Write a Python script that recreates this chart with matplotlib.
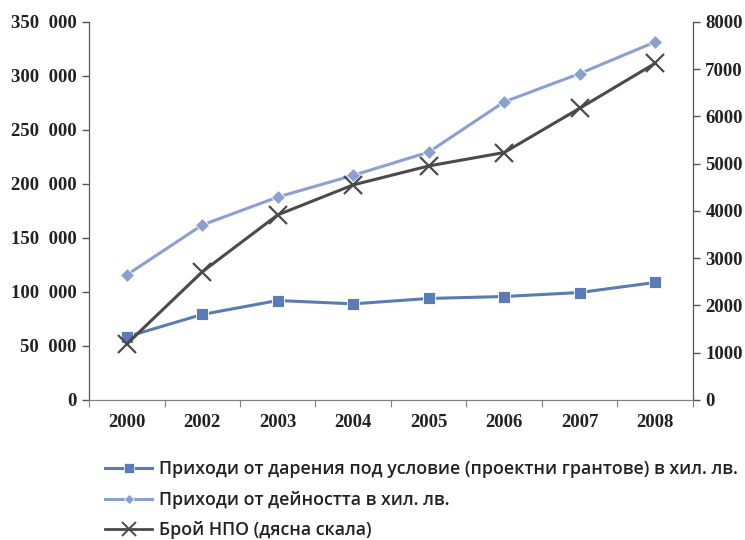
import matplotlib.pyplot as plt
from matplotlib.lines import Line2D
from matplotlib.ticker import FuncFormatter, FixedLocator

years = ['2000', '2002', '2003', '2004', '2005', '2006', '2007', '2008']
grants = [58500, 79200, 92100, 89000, 94000, 95800, 99500, 108800]
activity = [115800, 162000, 187900, 208000, 229500, 276000, 302200, 331500]
ngo_count = [1184, 2712, 3918, 4552, 4953, 5237, 6173, 7125]

labels = [
    'Приходи от дарения под условие (проектни грантове) в хил. лв.',
    'Приходи от дейността в хил. лв.',
    'Брой НПО (дясна скала)',
]

c_grants = '#5b7bb4'
c_activity = '#8ca0cf'
c_ngo = '#4a4a4a'
tick_font = dict(family='Liberation Serif', weight='bold', size=13.5)

fig = plt.figure(figsize=(7.45, 5.4), dpi=100)
ax = fig.add_axes([0.1195, 0.2593, 0.8105, 0.7000])
ax2 = ax.twinx()

x = list(range(len(years)))
ax.plot(x, grants, color=c_grants, lw=2.2, marker='s', ms=8,
        mfc=c_grants, mec='white', mew=0.6, zorder=3)
ax.plot(x, activity, color=c_activity, lw=2.2, marker='D', ms=7.5,
        mfc=c_activity, mec='white', mew=0.6, zorder=3)
ax2.plot(x, ngo_count, color=c_ngo, lw=2.2, marker='x', ms=13, mew=1.6)

ax.set_xlim(-0.5, len(years) - 0.5)
ax.set_ylim(0, 350000)
ax2.set_ylim(0, 8000)
ax.set_yticks(range(0, 350001, 50000))
ax2.set_yticks(range(0, 8001, 1000))
ax.yaxis.set_major_formatter(FuncFormatter(
    lambda v, p: '0' if v == 0 else f'{int(v):,}'.replace(',', '  ')))

# category ticks sit between the years
ax.xaxis.set_major_locator(FixedLocator([i - 0.5 for i in range(len(years) + 1)]))
ax.set_xticklabels([])
ax.xaxis.set_minor_locator(FixedLocator(x))
ax.set_xticklabels(years, minor=True)
ax.tick_params(axis='x', which='minor', length=0, pad=10)
ax.tick_params(axis='x', which='major', length=5, direction='out', color='#808080')

for a in (ax, ax2):
    a.spines['top'].set_visible(False)
    a.spines['bottom'].set_color('#808080')
    a.spines['left'].set_color('#555555')
    a.spines['right'].set_color('#555555')
    a.tick_params(axis='y', length=5, width=1, color='#555555', pad=4)
    for lab in a.get_yticklabels() + a.get_xticklabels(minor=True):
        lab.set_fontfamily(tick_font['family'])
        lab.set_fontweight(tick_font['weight'])
        lab.set_fontsize(tick_font['size'])
        lab.set_color('#222222')

handles = [
    Line2D([], [], color=c_grants, lw=2.2, marker='s', ms=6.5, mfc=c_grants, mec='white', mew=0.5),
    Line2D([], [], color=c_activity, lw=2.2, marker='D', ms=5, mfc=c_activity, mec='white', mew=0.5),
    Line2D([], [], color=c_ngo, lw=2.0, marker='x', ms=10, mew=1.4),
]
leg = fig.legend(handles, labels, loc='upper left', bbox_to_anchor=(0.12, 0.177),
                 frameon=False, handlelength=2.6, handletextpad=0.4, labelspacing=0.7,
                 prop=dict(family='Open Sans', weight='semibold', size=12.8))
for t in leg.get_texts():
    t.set_color('#222222')

plt.savefig('out.png', dpi=100)
